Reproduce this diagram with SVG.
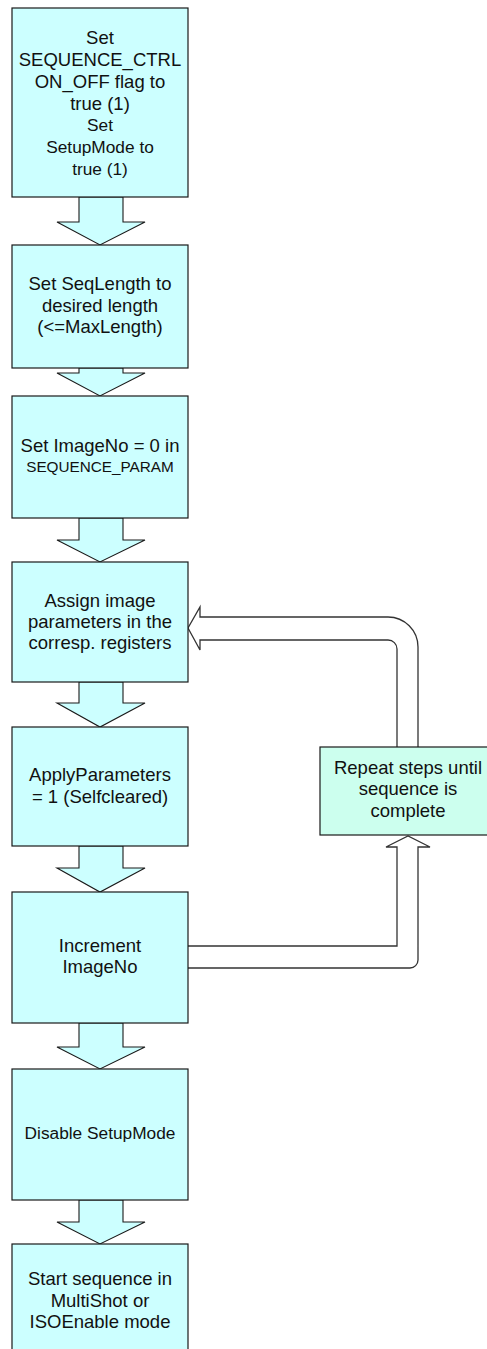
<svg xmlns="http://www.w3.org/2000/svg" width="487" height="1349" viewBox="0 0 487 1349">
<style>
.box{fill:#CCFFFF;stroke:#1a1a1a;stroke-width:1.2}
.rbox{fill:#CCFFEE;stroke:#1a1a1a;stroke-width:1.2}
.arr{fill:#CCFFFF;stroke:#1a1a1a;stroke-width:1.1;stroke-linejoin:miter}
.loop{fill:#FFFFFF;stroke:#333;stroke-width:1.3}
text{font-family:"Liberation Sans",Arial,sans-serif;font-size:18.5px;fill:#111;text-anchor:middle}
.s17{font-size:17.3px}
.s15{font-size:15.3px}
</style>
<rect width="487" height="1349" fill="#FFFFFF"/>
<g id="connectors">
<polygon class="arr" points="79,197 123,197 123,222 145,222 100,245 57,222 79,222"/>
<polygon class="arr" points="79,368 123,368 123,373 145,373 100,396 57,373 79,373"/>
<polygon class="arr" points="79,518 123,518 123,540 145,540 100,562 57,540 79,540"/>
<polygon class="arr" points="79,682 123,682 123,703 145,703 100,727 57,703 79,703"/>
<polygon class="arr" points="79,846 123,846 123,868 145,868 100,892 57,868 79,868"/>
<polygon class="arr" points="79,1023 123,1023 123,1047 145,1047 100,1069 57,1047 79,1047"/>
<polygon class="arr" points="79,1200 123,1200 123,1222 145,1222 100,1244 57,1222 79,1222"/>
<path class="loop" d="M397,747 L397,649 A9,9 0 0 0 388,640 L200,640 L200,650 L188,628 L200,607 L200,617 L388,617 A30,30 0 0 1 418,647 L418,747"/>
<path class="loop" d="M188,946 L397,946 L397,847 L386,847 L408,836 L430,847 L418,847 L418,960 A8,8 0 0 1 410,968 L188,968"/>
</g>
<g id="n1">
<rect class="box" x="12" y="8" width="176" height="189"/>
<text x="100" y="44">Set</text>
<text x="100" y="66">SEQUENCE_CTRL</text>
<text x="100" y="88">ON_OFF flag to</text>
<text x="100" y="110">true (1)</text>
<text class="s17" x="100" y="131">Set</text>
<text class="s17" x="100" y="153">SetupMode to</text>
<text class="s17" x="100" y="175">true (1)</text>
</g>
<g id="n2">
<rect class="box" x="12" y="245" width="176" height="123"/>
<text x="100" y="290">Set SeqLength to</text>
<text x="100" y="312">desired length</text>
<text x="100" y="333">(&lt;=MaxLength)</text>
</g>
<g id="n3">
<rect class="box" x="12" y="396" width="176" height="122"/>
<text x="100" y="452">Set ImageNo = 0 in</text>
<text class="s15" x="100" y="472">SEQUENCE_PARAM</text>
</g>
<g id="n4">
<rect class="box" x="12" y="562" width="176" height="120"/>
<text x="100" y="607">Assign image</text>
<text x="100" y="628">parameters in the</text>
<text x="100" y="649">corresp. registers</text>
</g>
<g id="n5">
<rect class="box" x="12" y="727" width="176" height="119"/>
<text x="100" y="781">ApplyParameters</text>
<text x="100" y="803">= 1 (Selfcleared)</text>
</g>
<g id="n6">
<rect class="box" x="12" y="892" width="176" height="131"/>
<text x="100" y="952">Increment</text>
<text x="100" y="973">ImageNo</text>
</g>
<g id="n7">
<rect class="box" x="12" y="1069" width="176" height="131"/>
<text class="s17" x="100" y="1139">Disable SetupMode</text>
</g>
<g id="n8">
<rect class="box" x="12" y="1244" width="176" height="120"/>
<text x="100" y="1285">Start sequence in</text>
<text x="100" y="1307">MultiShot or</text>
<text x="100" y="1328">ISOEnable mode</text>
</g>
<g id="n9">
<rect class="rbox" x="320" y="747" width="176" height="88"/>
<text x="408" y="774">Repeat steps until</text>
<text x="408" y="795">sequence is</text>
<text x="408" y="817">complete</text>
</g>
</svg>
